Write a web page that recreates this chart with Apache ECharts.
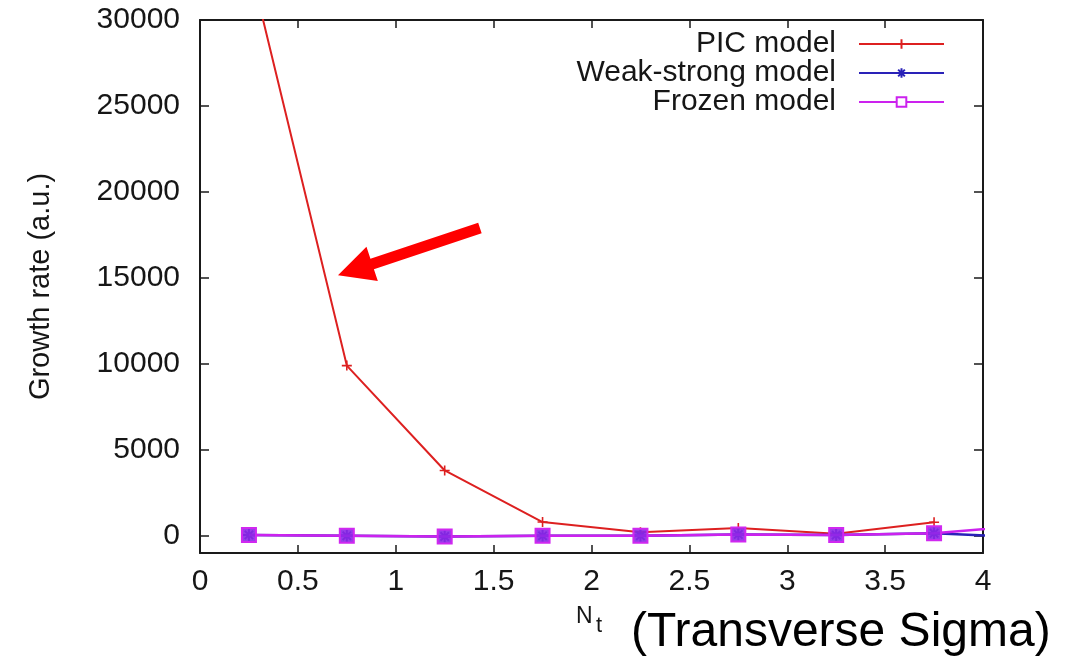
<!DOCTYPE html>
<html>
<head>
<meta charset="utf-8">
<script src="https://cdn.jsdelivr.net/npm/echarts@6/dist/echarts.min.js"></script>
<style>
  html, body { margin: 0; padding: 0; background: #fff; }
  #chart { width: 1073px; height: 664px; }
</style>
</head>
<body>
<div id="chart"></div>
<script>
// Growth rate versus transverse sigma N_t for the three beam-beam models
const nt = [0.25, 0.75, 1.25, 1.75, 2.25, 2.75, 3.25, 3.75, 4.25];
const picModel = [33400, 9900, 3800, 800, 200, 450, 120, 790];
const weakStrongModel = [50, 0, -40, 0, 0, 80, 40, 150, -110];
const frozenModel = [50, 0, -40, 0, 0, 80, 40, 150, 610];
const seriesNames = ['PIC model', 'Weak-strong model', 'Frozen model'];
const yTicks = [0, 5000, 10000, 15000, 20000, 25000, 30000];
// annotation arrow, data coordinates of tail and tip
const arrowTail = [1.43, 17900];
const arrowTip = [0.705, 15150];

const FONT = '"Liberation Sans", Arial, Helvetica, sans-serif';
const TEXT = '#161616';
const FRAME = '#1a1a1a';

const pairs = (xs, ys) => ys.map((v, i) => [xs[i], v]);

const plusPath = 'path://M0,5L10,5M5,0L5,10';
const starPath = 'path://M0,5L10,5M5,0L5,10M1.5,1.5L8.5,8.5M8.5,1.5L1.5,8.5';

const chart = echarts.init(document.getElementById('chart'), null, { renderer: 'canvas' });

const frameAxisY = (pos) => ({
  type: 'value', min: -1000, max: 30000, position: pos,
  axisLine: { show: true, onZero: false, lineStyle: { color: FRAME, width: 2 } },
  axisTick: { show: true, inside: true, length: 9, customValues: yTicks, lineStyle: { color: FRAME, width: 1.5 } },
  axisLabel: { show: pos === 'left', customValues: yTicks, fontSize: 30, fontFamily: FONT, color: TEXT, margin: 20,
               formatter: (v) => String(v) },
  splitLine: { show: false }
});

const frameAxisX = (pos) => ({
  type: 'value', min: 0, max: 4, interval: 0.5, position: pos,
  axisLine: { show: true, onZero: false, lineStyle: { color: FRAME, width: 2 } },
  axisTick: { show: true, inside: true, length: 8, lineStyle: { color: FRAME, width: 1.5 } },
  axisLabel: { show: pos === 'bottom', fontSize: 30, fontFamily: FONT, color: TEXT, margin: 14,
               showMinLabel: true, showMaxLabel: true, formatter: (v) => String(v) },
  splitLine: { show: false }
});

const legendFor = (name, i, extra) => Object.assign({
  data: [name],
  orient: 'vertical',
  right: 128,
  top: 29 + i * 29,
  align: 'right',
  itemWidth: 85,
  itemHeight: 12,
  padding: 0,
  selectedMode: false,
  textStyle: { fontSize: 30, fontFamily: FONT, color: TEXT, padding: [0, 18, 0, 0] }
}, extra || {});

const option = {
  backgroundColor: '#ffffff',
  animation: false,
  grid: { left: 200, right: 90, top: 20, bottom: 111, outerBoundsMode: 'none' },
  xAxis: [frameAxisX('bottom'), frameAxisX('top')],
  yAxis: [
    Object.assign(frameAxisY('left'), {
      name: 'Growth rate (a.u.)', nameLocation: 'middle', nameGap: 145, nameRotate: 90,
      nameTextStyle: { fontSize: 29, fontFamily: FONT, color: TEXT }
    }),
    frameAxisY('right')
  ],
  legend: [
    legendFor(seriesNames[0], 0),
    legendFor(seriesNames[1], 1),
    legendFor(seriesNames[2], 2, {
      data: [{ name: seriesNames[2], itemStyle: { color: '#ffffff', borderColor: '#cc22ee', borderWidth: 2 } }]
    })
  ],
  series: [
    {
      name: seriesNames[0], type: 'line', data: pairs(nt, picModel), clip: true, z: 2,
      lineStyle: { color: '#dd2020', width: 2 },
      symbol: plusPath, symbolSize: 10,
      itemStyle: { color: '#dd2020', borderColor: '#dd2020', borderWidth: 1.6 }
    },
    {
      name: seriesNames[1], type: 'line', data: pairs(nt, weakStrongModel), clip: true, z: 3,
      lineStyle: { color: '#2a22b8', width: 2.5 },
      symbol: starPath, symbolSize: 12,
      itemStyle: { color: '#2a22b8', borderColor: '#2a22b8', borderWidth: 2 }
    },
    {
      name: seriesNames[2], type: 'line', data: pairs(nt, frozenModel), clip: true, z: 4,
      lineStyle: { color: '#cc22ee', width: 2.5 },
      symbol: 'rect', symbolSize: 14,
      itemStyle: { color: 'rgba(140,40,230,0.9)', borderColor: '#d028f0', borderWidth: 2 }
    }
  ]
};

chart.setOption(option);

// axis label subscript and caption below the plot, plus the red annotation arrow
function drawExtras() {
  const tip = chart.convertToPixel({ gridIndex: 0 }, arrowTip);
  const tail = chart.convertToPixel({ gridIndex: 0 }, arrowTail);
  const dx = tip[0] - tail[0], dy = tip[1] - tail[1];
  const len = Math.hypot(dx, dy);
  const ux = dx / len, uy = dy / len;   // along the arrow
  const nx = -uy, ny = ux;              // perpendicular
  const headLen = 36, headHalf = 18, shaftHalf = 5.5;
  const bx = tip[0] - ux * headLen, by = tip[1] - uy * headLen;
  const pts = [
    [tail[0] + nx * shaftHalf, tail[1] + ny * shaftHalf],
    [bx + nx * shaftHalf, by + ny * shaftHalf],
    [bx + nx * headHalf, by + ny * headHalf],
    [tip[0], tip[1]],
    [bx - nx * headHalf, by - ny * headHalf],
    [bx - nx * shaftHalf, by - ny * shaftHalf],
    [tail[0] - nx * shaftHalf, tail[1] - ny * shaftHalf]
  ];
  chart.setOption({
    graphic: [
      { type: 'polygon', shape: { points: pts }, style: { fill: '#ff0000' }, z: 10 },
      { type: 'text', left: 576, top: 605, style: { text: 'N', fontSize: 23, fontFamily: FONT, fill: TEXT } },
      { type: 'text', left: 596, top: 615, style: { text: 't', fontSize: 22, fontFamily: FONT, fill: TEXT } },
      { type: 'text', left: 631, top: 609, style: { text: '(Transverse Sigma)', fontSize: 48, fontFamily: FONT, fill: '#000' } }
    ]
  });
}
drawExtras();
</script>
</body>
</html>
